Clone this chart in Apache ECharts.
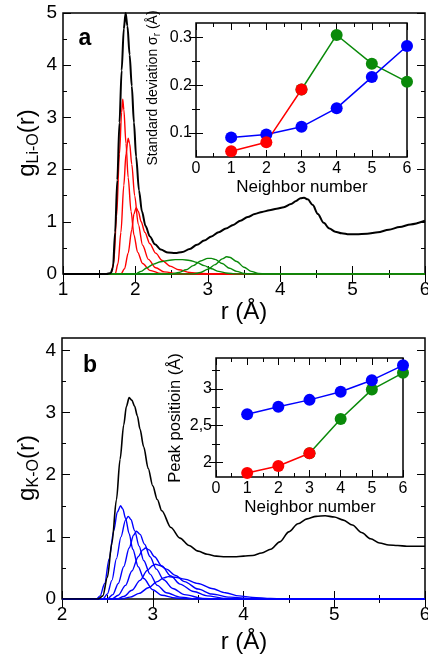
<!DOCTYPE html>
<html><head><meta charset="utf-8">
<script src="https://cdn.jsdelivr.net/npm/echarts@6/dist/echarts.min.js"></script>
<style>html,body{margin:0;padding:0;background:#fff}#c{width:428px;height:657px}</style>
</head><body><div id="c"></div>
<script>
// ---------- Panel a: g_Li-O(r) ----------
const liO_r = [1.0,1.60,1.66,1.69,1.72,1.75,1.78,1.81,1.84,1.865,1.89,1.92,1.95,1.98,2.01,2.05,2.09,2.14,2.20,2.27,2.35,2.45,2.55,2.65,2.75,2.85,2.95,3.05,3.15,3.25,3.35,3.45,3.55,3.65,3.75,3.85,3.95,4.05,4.15,4.22,4.28,4.33,4.38,4.45,4.52,4.60,4.68,4.76,4.85,4.95,5.05,5.20,5.35,5.50,5.65,5.80,6.0];
const liO_g = [0,0,0.02,0.12,0.8,1.8,2.9,3.9,4.7,5.0,4.75,4.2,3.6,2.9,2.25,1.6,1.2,0.92,0.72,0.57,0.47,0.41,0.40,0.42,0.48,0.56,0.64,0.72,0.80,0.87,0.94,1.02,1.09,1.15,1.19,1.22,1.25,1.28,1.34,1.40,1.45,1.46,1.43,1.32,1.15,0.98,0.87,0.81,0.78,0.76,0.76,0.77,0.80,0.85,0.90,0.95,1.02];

const liRed1_r = [1.0,1.66,1.70,1.74,1.78,1.81,1.825,1.84,1.87,1.90,1.94,1.98,2.03,2.10,2.20,2.35,2.5,6.0];
const liRed1_g = [0,0,0.2,1.1,2.3,3.1,3.35,3.15,2.5,1.85,1.2,0.75,0.42,0.2,0.07,0.01,0,0];
const liRed2_r = [1.0,1.72,1.76,1.80,1.84,1.87,1.90,1.92,1.95,1.99,2.04,2.10,2.18,2.28,2.40,2.6,6.0];
const liRed2_g = [0,0,0.2,0.8,1.7,2.3,2.6,2.5,2.1,1.5,0.95,0.55,0.28,0.12,0.04,0,0];
const liRed3_r = [1.0,1.80,1.85,1.90,1.95,1.98,2.01,2.04,2.08,2.13,2.20,2.28,2.37,2.48,2.60,2.75,2.90,3.1,6.0];
const liRed3_g = [0,0,0.1,0.4,0.85,1.15,1.27,1.2,1.0,0.8,0.58,0.4,0.26,0.15,0.08,0.03,0.01,0,0];

const liGreen1_r = [1.0,2.0,2.08,2.16,2.25,2.35,2.45,2.55,2.65,2.75,2.85,2.95,3.05,3.15,3.25,3.4,6.0];
const liGreen1_g = [0,0,0.05,0.12,0.19,0.235,0.26,0.275,0.275,0.26,0.22,0.16,0.10,0.05,0.02,0,0];
const liGreen2_r = [1.0,2.5,2.6,2.7,2.8,2.9,3.0,3.05,3.1,3.2,3.3,3.4,3.5,3.6,6.0];
const liGreen2_g = [0,0,0.03,0.08,0.16,0.25,0.30,0.30,0.28,0.20,0.11,0.05,0.01,0,0];
const liGreen3_r = [1.0,2.8,2.9,3.0,3.1,3.2,3.26,3.3,3.4,3.5,3.6,3.7,3.8,6.0];
const liGreen3_g = [0,0,0.03,0.09,0.18,0.29,0.33,0.32,0.24,0.13,0.05,0.01,0,0];

// ---------- Panel b: g_K-O(r) ----------
const kO_r = [2.0,2.40,2.45,2.50,2.55,2.60,2.64,2.68,2.71,2.74,2.77,2.80,2.83,2.86,2.90,2.95,3.0,3.05,3.1,3.2,3.3,3.4,3.5,3.6,3.7,3.8,3.9,4.0,4.1,4.2,4.3,4.4,4.5,4.6,4.7,4.8,4.9,5.0,5.1,5.2,5.3,5.4,5.5,5.6,5.7,5.8,6.0];
const kO_g = [0,0,0.05,0.35,0.9,1.6,2.25,2.8,3.1,3.24,3.2,3.1,2.95,2.73,2.45,2.1,1.82,1.6,1.42,1.15,0.98,0.86,0.77,0.72,0.69,0.68,0.68,0.69,0.70,0.74,0.80,0.92,1.08,1.21,1.29,1.33,1.34,1.32,1.27,1.19,1.07,0.97,0.90,0.87,0.86,0.85,0.85];

const kBlue1_r = [2.0,2.38,2.42,2.47,2.52,2.57,2.61,2.645,2.67,2.70,2.74,2.78,2.84,2.90,3.0,3.1,3.25,3.4,6.0];
const kBlue1_g = [0,0,0.05,0.25,0.65,1.1,1.4,1.5,1.45,1.3,1.05,0.8,0.52,0.33,0.15,0.06,0.015,0,0];
const kBlue2_r = [2.0,2.45,2.50,2.55,2.60,2.65,2.70,2.73,2.76,2.80,2.85,2.90,2.97,3.05,3.15,3.3,3.5,6.0];
const kBlue2_g = [0,0,0.08,0.3,0.65,1.0,1.27,1.33,1.28,1.1,0.85,0.62,0.4,0.22,0.1,0.03,0,0];
const kBlue3_r = [2.0,2.50,2.56,2.62,2.68,2.74,2.79,2.82,2.86,2.91,2.97,3.04,3.12,3.22,3.35,3.55,3.7,6.0];
const kBlue3_g = [0,0,0.07,0.25,0.52,0.82,1.03,1.09,1.04,0.88,0.68,0.48,0.31,0.17,0.07,0.01,0,0];
const kBlue4_r = [2.0,2.55,2.62,2.70,2.77,2.84,2.89,2.92,2.96,3.02,3.10,3.20,3.30,3.45,3.60,3.80,4.0,6.0];
const kBlue4_g = [0,0,0.06,0.22,0.45,0.68,0.79,0.82,0.79,0.68,0.53,0.37,0.24,0.12,0.05,0.01,0,0];
const kBlue5_r = [2.0,2.60,2.68,2.77,2.86,2.94,3.0,3.03,3.08,3.15,3.25,3.35,3.5,3.65,3.85,4.1,4.3,6.0];
const kBlue5_g = [0,0,0.04,0.14,0.3,0.46,0.54,0.56,0.54,0.48,0.38,0.28,0.16,0.08,0.03,0.005,0,0];
const kBlue6_r = [2.0,2.65,2.75,2.85,2.95,3.05,3.12,3.17,3.25,3.35,3.5,3.65,3.8,3.95,4.1,4.3,4.5,6.0];
const kBlue6_g = [0,0,0.03,0.09,0.18,0.28,0.34,0.36,0.35,0.32,0.25,0.17,0.10,0.05,0.025,0.008,0,0];

// ---------- Insets ----------
const neighbors = [1,2,3,4,5,6];
const sdBlue = [0.091,0.097,0.113,0.152,0.217,0.282];
const sdRed_n = [1,2,3];   const sdRed = [0.062,0.081,0.191];
const sdGreen_n = [3,4,5,6]; const sdGreen = [0.191,0.305,0.245,0.207];

const posBlue = [2.655,2.755,2.85,2.96,3.118,3.32];
const posRed_n = [1,2,3];   const posRed = [1.855,1.95,2.123];
const posGreen_n = [3,4,5,6]; const posGreen = [2.123,2.59,2.99,3.218];

// tick labels
const aXTicks = [1,2,3,4,5,6], aYTicks = [0,1,2,3,4,5];
const bXTicks = [2,3,4,5,6],   bYTicks = [0,1,2,3,4];
const inXTicks = [0,1,2,3,4,5,6];
const inAYTicks = [0.1,0.2,0.3];
const inBYTicks = [2,2.5,3];

// ---------- build ----------
const FONT = '"Liberation Sans", Arial, Helvetica, sans-serif';
const RED = '#ff0000', GREEN = '#0a8a0a', BLUE = '#0000ff';
const xAxes = [], yAxes = [];
function range(a, b, s) { const o = []; for (let v = a; v <= b + 1e-9; v += s) o.push(Math.round(v * 1000) / 1000); return o; }
function addAxes(gi, dim, min, max, major, minor, labels, o) {
  const arr = dim === 'x' ? xAxes : yAxes;
  const sides = dim === 'x' ? ['bottom', 'top'] : ['left', 'right'];
  let first = -1;
  sides.forEach((pos, si) => {
    [[major, o.majorLen], [minor, o.minorLen]].forEach(([vals, len], ki) => {
      const showLab = si === 0 && ki === 0;
      if (!vals.length && !showLab) return;
      const ax = {
        type: 'value', gridIndex: gi, min: min, max: max, position: pos,
        axisLine: { show: false }, splitLine: { show: false }, minorTick: { show: false },
        axisTick: { show: vals.length > 0, inside: true, length: len, customValues: vals, lineStyle: { color: '#000', width: 1 } },
        axisLabel: showLab ? { show: true, customValues: labels, margin: o.margin, fontSize: o.fontSize, fontFamily: FONT, color: '#000', formatter: o.formatter || (v => String(v)) } : { show: false }
      };
      if (first < 0) first = arr.length;
      arr.push(ax);
    });
  });
  return first;
}
const mainO = { majorLen: 8, minorLen: 4, margin: 6, fontSize: 19 };
const inO = { majorLen: 7, minorLen: 4, margin: 4, fontSize: 16 };

const ax0 = addAxes(0, 'x', 1, 6, aXTicks, range(1.5, 5.5, 1), aXTicks, mainO);
const ay0 = addAxes(0, 'y', 0, 5, aYTicks, range(0.5, 4.5, 1), aYTicks, mainO);
const ax1 = addAxes(1, 'x', 0, 6, inXTicks, range(0.5, 5.5, 1), inXTicks, inO);
const ay1 = addAxes(1, 'y', 0.05, 0.33, inAYTicks, [0.15, 0.25], inAYTicks, inO);
const ax2 = addAxes(2, 'x', 2, 6, bXTicks, range(2.5, 5.5, 1), bXTicks, mainO);
const ay2 = addAxes(2, 'y', 0, 4.2, bYTicks, range(0.5, 3.5, 1), bYTicks, mainO);
const ax3 = addAxes(3, 'x', 0, 6, inXTicks, range(0.5, 5.5, 1), inXTicks, inO);
const ay3 = addAxes(3, 'y', 1.8, 3.42, inBYTicks, [2.25, 2.75, 3.25], inBYTicks, Object.assign({}, inO, { formatter: v => String(v).replace('.', ',') }));

function zip(a, b) { return a.map((x, i) => [x, b[i]]); }
function curve(xi, yi, r, g, color, width) {
  return { type: 'line', xAxisIndex: xi, yAxisIndex: yi, data: zip(r, g), showSymbol: false, symbol: 'none',
    smooth: 0.3, smoothMonotone: 'x', lineStyle: { color: color, width: width }, itemStyle: { color: color },
    animation: false, silent: true, z: 3 };
}
function dots(xi, yi, n, v, color) {
  return { type: 'line', xAxisIndex: xi, yAxisIndex: yi, data: zip(n, v), symbol: 'circle', symbolSize: 12, showSymbol: true,
    lineStyle: { color: color, width: 1.5 }, itemStyle: { color: color }, animation: false, silent: true, z: 4 };
}

const series = [
  curve(ax0, ay0, liRed1_r, liRed1_g, RED, 1.4),
  curve(ax0, ay0, liRed2_r, liRed2_g, RED, 1.4),
  curve(ax0, ay0, liRed3_r, liRed3_g, RED, 1.4),
  curve(ax0, ay0, liGreen1_r, liGreen1_g, GREEN, 1.4),
  curve(ax0, ay0, liGreen2_r, liGreen2_g, GREEN, 1.4),
  curve(ax0, ay0, liGreen3_r, liGreen3_g, GREEN, 1.4),
  curve(ax0, ay0, liO_r, liO_g, '#000', 2),
  dots(ax1, ay1, sdGreen_n, sdGreen, GREEN),
  dots(ax1, ay1, neighbors, sdBlue, BLUE),
  dots(ax1, ay1, sdRed_n, sdRed, RED),
  curve(ax2, ay2, kBlue1_r, kBlue1_g, BLUE, 1.4),
  curve(ax2, ay2, kBlue2_r, kBlue2_g, BLUE, 1.4),
  curve(ax2, ay2, kBlue3_r, kBlue3_g, BLUE, 1.4),
  curve(ax2, ay2, kBlue4_r, kBlue4_g, BLUE, 1.4),
  curve(ax2, ay2, kBlue5_r, kBlue5_g, BLUE, 1.4),
  curve(ax2, ay2, kBlue6_r, kBlue6_g, BLUE, 1.4),
  curve(ax2, ay2, kO_r, kO_g, '#000', 1.6),
  dots(ax3, ay3, posGreen_n, posGreen, GREEN),
  dots(ax3, ay3, neighbors, posBlue, BLUE),
  dots(ax3, ay3, posRed_n, posRed, RED)
];

function gridDef(l, t, w, h, bg) {
  return { left: l, top: t, width: w, height: h, show: true, borderColor: '#000', borderWidth: 1.5,
    backgroundColor: bg, containLabel: false, outerBoundsMode: 'none' };
}

function txt(x, y, text, fontSize, opts) {
  opts = opts || {};
  return { type: 'text', x: x, y: y, rotation: opts.rot || 0, z: 100, silent: true,
    style: { text: text, fill: '#000', font: (opts.bold ? 'bold ' : '') + fontSize + 'px ' + FONT,
      textAlign: 'center', textVerticalAlign: 'middle', align: 'center', verticalAlign: 'middle', rich: opts.rich } };
}
const richBig = {
  a: { fontSize: 24, fontFamily: FONT, lineHeight: 30, verticalAlign: 'middle', fill: '#000', color: '#000' },
  b: { fontSize: 16, fontFamily: FONT, lineHeight: 16, verticalAlign: 'bottom', fill: '#000', color: '#000' }
};
const richSmall = {
  a: { fontSize: 14, fontFamily: FONT, lineHeight: 18, verticalAlign: 'middle', fill: '#000', color: '#000' },
  b: { fontSize: 10, fontFamily: FONT, lineHeight: 10, verticalAlign: 'bottom', fill: '#000', color: '#000' }
};

const option = {
  animation: false,
  backgroundColor: '#fff',
  grid: [gridDef(63, 13, 362, 261, 'transparent'), gridDef(196, 23, 211, 134, '#fff'),
         gridDef(62, 338, 363, 261, 'transparent'), gridDef(216, 358, 187, 119, '#fff')],
  xAxis: xAxes, yAxis: yAxes, series: series,
  graphic: [
    txt(85, 39, 'a', 23, { bold: true }),
    txt(90, 366, 'b', 23, { bold: true }),
    txt(244, 312, 'r (Å)', 24),
    txt(244, 642, 'r (Å)', 24),
    txt(27, 143, '{a|g}{b|Li-O}{a|(r)}', 24, { rot: Math.PI / 2, rich: richBig }),
    txt(27, 468, '{a|g}{b|K-O}{a|(r)}', 24, { rot: Math.PI / 2, rich: richBig }),
    txt(302, 187, 'Neighbor number', 17),
    txt(310, 507, 'Neighbor number', 17),
    txt(153, 88, '{a|Standard deviation σ}{b|r}{a| (Å)}', 14, { rot: Math.PI / 2, rich: richSmall }),
    txt(175, 418, 'Peak positioin (Å)', 16.5, { rot: Math.PI / 2 })
  ]
};
const chart = echarts.init(document.getElementById('c'), null, { renderer: 'canvas', width: 428, height: 657 });
chart.setOption(option);
</script></body></html>
